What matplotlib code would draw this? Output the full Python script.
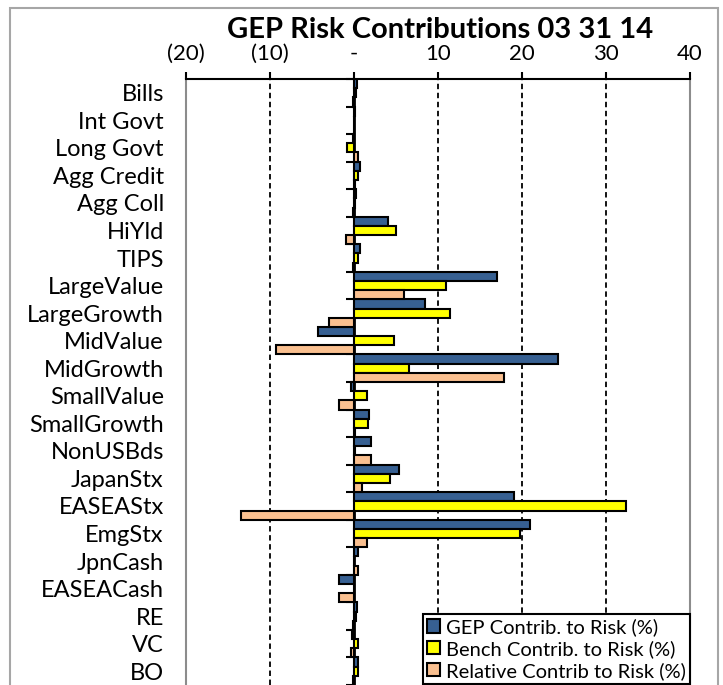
import numpy as np
import matplotlib
matplotlib.use("Agg")
import matplotlib.pyplot as plt
from matplotlib.patches import Rectangle

plt.rcParams['font.family'] = ['Lato', 'DejaVu Sans']

categories = ["Bills", "Int Govt", "Long Govt", "Agg Credit", "Agg Coll", "HiYld",
              "TIPS", "LargeValue", "LargeGrowth", "MidValue", "MidGrowth",
              "SmallValue", "SmallGrowth", "NonUSBds", "JapanStx", "EASEAStx",
              "EmgStx", "JpnCash", "EASEACash", "RE", "VC", "BO"]

gep = [0.3, 0.1, -0.1, 0.75, 0.2, 4.1, 0.75, 17.0, 8.4, -4.25, 24.3,
       -0.3, 1.8, 2.0, 5.3, 19.0, 21.0, 0.5, -1.8, 0.3, -0.2, 0.5]
bench = [0.2, 0.05, -0.8, 0.45, 0.1, 5.0, 0.45, 10.9, 11.4, 4.8, 6.6,
         1.5, 1.7, 0.1, 4.3, 32.4, 19.8, 0.05, 0.05, 0.2, 0.5, 0.5]
relative = [-0.1, -0.05, 0.45, 0.1, -0.1, -1.0, -0.1, 6.0, -3.0, -9.3, 17.8,
            -1.75, 0.1, 2.0, 1.0, -13.4, 1.5, 0.5, -1.8, -0.1, -0.3, -0.1]

series_names = ["GEP Contrib. to Risk (%)", "Bench Contrib. to Risk (%)",
                "Relative Contrib to Risk (%)"]
colors = ["#376092", "#ffff00", "#fac090"]

xticks = [-20, -10, 0, 10, 20, 30, 40]
xtick_labels = ["(20)", "(10)", "-", "10", "20", "30", "40"]

W, H = 723, 685
fig = plt.figure(figsize=(W / 100, H / 100), dpi=100)

# outer gray frame (bottom edge is cut off in the original)
fig.patches.append(Rectangle((10 / W, -0.05), 708 / W, 1.05 - 8 / H,
                             transform=fig.transFigure, fill=False,
                             edgecolor="#a6a6a6", lw=1.5))

ax = fig.add_axes([186 / W, 0, 504 / W, 1 - 79 / H])

y = np.arange(len(categories))
h = 1 / 3
for k, (vals, name, c) in enumerate(zip([gep, bench, relative], series_names, colors)):
    ax.barh(y + (k - 1) * h, vals, height=h, color=c, edgecolor="black",
            linewidth=1.5, label=name, zorder=3)

ax.set_xlim(-20, 40)
ax.set_ylim(len(categories) - 0.5, -0.5)

ax.xaxis.tick_top()
ax.set_xticks(xticks)
ax.set_xticklabels(xtick_labels, fontsize=16)
ax.tick_params(axis="x", direction="out", length=5, width=1.5, pad=6)

ax.set_yticks(y)
ax.set_yticklabels(categories, fontsize=17)
ax.tick_params(axis="y", length=0, pad=16)

# dashed gridlines at every 10
for v in xticks:
    if v != 0:
        ax.axvline(v, color="black", ls=(0, (3, 2)), lw=1.3, zorder=1)

for s in ("left", "right"):
    ax.spines[s].set_color("#8c8c8c")
    ax.spines[s].set_linewidth(1.5)
ax.spines["bottom"].set_visible(False)
ax.spines["top"].set_linewidth(1.5)

# category axis at zero with boundary ticks
zero_frac = (0 - xticks[0]) / (xticks[-1] - xticks[0])
sec = ax.secondary_yaxis(zero_frac)
sec.set_yticks(np.arange(len(categories) + 1) - 0.5)
sec.set_yticklabels([])
sec.tick_params(axis="y", direction="out", length=6, width=1.5)
sec.spines["left"].set_linewidth(2)
sec.spines["left"].set_color("black")

fig.text(440 / W, 1 - 30 / H, "GEP Risk Contributions 03 31 14", fontsize=21,
         fontweight="bold", ha="center", va="center")

leg = ax.legend(loc="lower right", bbox_to_anchor=(1.0, 0.002), fontsize=14.5,
                frameon=True, fancybox=False, edgecolor="black", framealpha=1,
                handlelength=0.65, handleheight=0.65, handletextpad=0.3,
                borderpad=0.2, labelspacing=0.2, borderaxespad=0)
leg.get_frame().set_linewidth(1.5)
leg.set_zorder(5)

fig.savefig("out.png", dpi=100)
